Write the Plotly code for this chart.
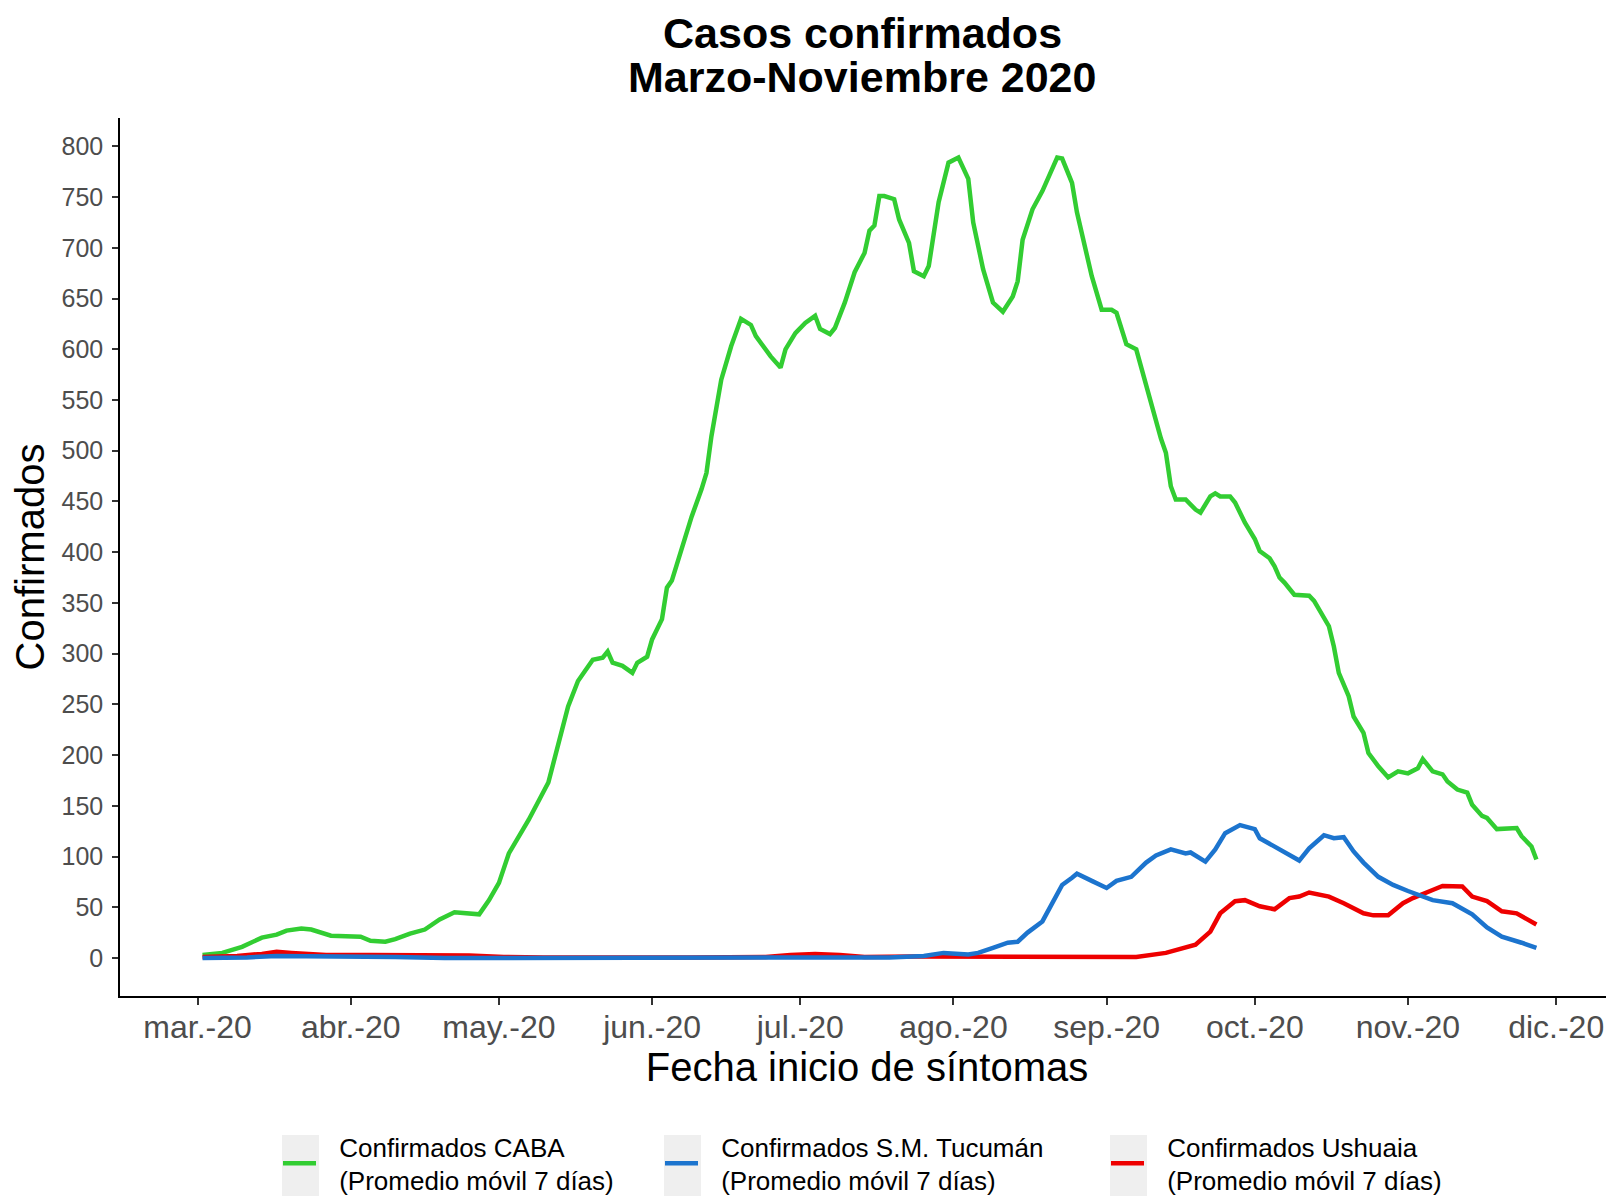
import plotly.graph_objects as go

# Promedio móvil 7 días
caba_fechas = [
    "2020-03-02", "2020-03-06", "2020-03-10", "2020-03-14", "2020-03-17", "2020-03-19",
    "2020-03-22", "2020-03-24", "2020-03-28", "2020-03-31", "2020-04-03", "2020-04-05",
    "2020-04-08", "2020-04-10", "2020-04-13", "2020-04-16", "2020-04-19", "2020-04-22",
    "2020-04-25", "2020-04-27", "2020-04-29", "2020-05-01", "2020-05-03", "2020-05-07",
    "2020-05-11", "2020-05-13", "2020-05-15", "2020-05-17", "2020-05-20", "2020-05-22",
    "2020-05-23", "2020-05-24", "2020-05-26", "2020-05-28", "2020-05-29", "2020-05-31",
    "2020-06-01", "2020-06-03", "2020-06-04", "2020-06-05", "2020-06-07", "2020-06-09",
    "2020-06-11", "2020-06-12", "2020-06-13", "2020-06-14", "2020-06-15", "2020-06-17",
    "2020-06-19", "2020-06-21", "2020-06-22", "2020-06-25", "2020-06-27", "2020-06-28",
    "2020-06-30", "2020-07-02", "2020-07-04", "2020-07-05", "2020-07-07", "2020-07-08",
    "2020-07-10", "2020-07-12", "2020-07-14", "2020-07-15", "2020-07-16", "2020-07-17",
    "2020-07-18", "2020-07-20", "2020-07-21", "2020-07-23", "2020-07-24", "2020-07-26",
    "2020-07-27", "2020-07-29", "2020-07-31", "2020-08-02", "2020-08-04", "2020-08-05",
    "2020-08-07", "2020-08-09", "2020-08-11", "2020-08-13", "2020-08-14", "2020-08-15",
    "2020-08-17", "2020-08-19", "2020-08-22", "2020-08-23", "2020-08-25", "2020-08-26",
    "2020-08-28", "2020-08-29", "2020-08-31", "2020-09-02", "2020-09-03", "2020-09-05",
    "2020-09-07", "2020-09-09", "2020-09-12", "2020-09-13", "2020-09-14", "2020-09-15",
    "2020-09-17", "2020-09-19", "2020-09-20", "2020-09-22", "2020-09-23", "2020-09-24",
    "2020-09-26", "2020-09-27", "2020-09-29", "2020-10-01", "2020-10-02", "2020-10-04",
    "2020-10-05", "2020-10-06", "2020-10-07", "2020-10-09", "2020-10-12", "2020-10-13",
    "2020-10-16", "2020-10-17", "2020-10-18", "2020-10-20", "2020-10-21", "2020-10-23",
    "2020-10-24", "2020-10-26", "2020-10-28", "2020-10-30", "2020-11-01", "2020-11-03",
    "2020-11-04", "2020-11-06", "2020-11-08", "2020-11-09", "2020-11-11", "2020-11-13",
    "2020-11-14", "2020-11-16", "2020-11-17", "2020-11-19", "2020-11-21", "2020-11-23",
    "2020-11-24", "2020-11-26", "2020-11-27",
]
caba_valores = [
    3, 5, 11, 20, 23, 27,
    29, 28, 22, 22, 21, 17,
    16, 18.5, 24, 28, 38, 45,
    44, 43, 57, 74, 103, 136,
    173, 212, 248, 273, 294, 296,
    302, 291, 288, 281, 291, 297,
    314, 334, 365, 372, 404, 435,
    462, 478, 514, 544, 570, 603,
    630, 624, 613, 593, 582, 600,
    616, 626, 633, 620, 615, 621,
    646, 676, 695, 717, 722, 751,
    751, 748, 728, 705, 677, 672,
    682, 745, 784, 789, 768, 725,
    679, 646, 637, 652, 667, 708,
    738, 756, 789, 788, 764, 735,
    692, 672, 639, 639, 636, 605,
    600, 564, 512, 498, 465, 452,
    452, 442, 439, 455, 458, 455,
    455, 449, 429, 413, 401, 394,
    386, 375, 370, 358, 357, 352,
    327, 307, 281, 258, 238, 222,
    202, 189, 178, 184, 182, 187,
    196, 184, 181, 174, 166, 163,
    151, 140, 138, 127, 128, 128,
    120, 110, 97,
]

tucuman_fechas = [
    "2020-03-02", "2020-03-11", "2020-03-17", "2020-03-23", "2020-03-31", "2020-04-10",
    "2020-04-20", "2020-04-30", "2020-06-29", "2020-07-04", "2020-07-09", "2020-07-19",
    "2020-07-26", "2020-07-30", "2020-08-04", "2020-08-06", "2020-08-09", "2020-08-12",
    "2020-08-14", "2020-08-16", "2020-08-19", "2020-08-21", "2020-08-23", "2020-08-25",
    "2020-08-26", "2020-08-29", "2020-09-01", "2020-09-03", "2020-09-06", "2020-09-09",
    "2020-09-11", "2020-09-14", "2020-09-17", "2020-09-18", "2020-09-21", "2020-09-23",
    "2020-09-25", "2020-09-28", "2020-10-01", "2020-10-02", "2020-10-05", "2020-10-08",
    "2020-10-10", "2020-10-12", "2020-10-15", "2020-10-17", "2020-10-19", "2020-10-21",
    "2020-10-23", "2020-10-26", "2020-10-29", "2020-11-01", "2020-11-04", "2020-11-06",
    "2020-11-10", "2020-11-14", "2020-11-17", "2020-11-20", "2020-11-24", "2020-11-27",
]
tucuman_valores = [
    0, 0.5, 2, 2, 1, 1,
    0, 0, 0, 1, 1, 0.5,
    2, 5, 3.5, 5, 10, 15,
    16, 25, 36, 54, 72, 79,
    83, 76, 69, 76, 80, 94,
    101, 107, 103, 104, 95, 107,
    123, 131, 127, 118, 110, 102,
    96, 108, 121, 118, 119, 105,
    94, 80, 72, 66, 61, 57,
    54, 43, 30, 21, 15, 10,
]

ushuaia_fechas = [
    "2020-03-02", "2020-03-09", "2020-03-14", "2020-03-17", "2020-03-20", "2020-03-27",
    "2020-04-05", "2020-04-15", "2020-04-20", "2020-04-25", "2020-05-02", "2020-05-10",
    "2020-06-09", "2020-06-24", "2020-06-29", "2020-07-04", "2020-07-09", "2020-07-14",
    "2020-07-24", "2020-08-08", "2020-08-28", "2020-09-07", "2020-09-13", "2020-09-17",
    "2020-09-19", "2020-09-22", "2020-09-24", "2020-09-27", "2020-09-29", "2020-10-02",
    "2020-10-05", "2020-10-08", "2020-10-10", "2020-10-12", "2020-10-16", "2020-10-19",
    "2020-10-23", "2020-10-25", "2020-10-28", "2020-10-31", "2020-11-02", "2020-11-06",
    "2020-11-08", "2020-11-12", "2020-11-14", "2020-11-17", "2020-11-20", "2020-11-23",
    "2020-11-27",
]
ushuaia_valores = [
    1, 2, 4, 6, 5, 3,
    3, 3, 2, 2.5, 1, 0.5,
    0.5, 1, 3, 4, 3, 1,
    1.5, 1, 0.5, 1, 5, 10,
    13, 26, 44, 56, 57, 51,
    48, 59, 60.5, 64.5, 60.5, 54,
    44, 42, 42, 54, 59, 67,
    71, 70.5, 60.5, 56, 46, 44,
    33,
]

mes_ticks = [
    "2020-03-01", "2020-04-01", "2020-05-01", "2020-06-01", "2020-07-01",
    "2020-08-01", "2020-09-01", "2020-10-01", "2020-11-01", "2020-12-01",
]
mes_etiquetas = [
    "mar.-20", "abr.-20", "may.-20", "jun.-20", "jul.-20",
    "ago.-20", "sep.-20", "oct.-20", "nov.-20", "dic.-20",
]

FONT = "Liberation Sans, Arial, sans-serif"
VERDE = "#32CD32"
AZUL = "#1C74CE"
ROJO = "#EE0000"

# la página deja 8 px de margen: el área del gráfico queda en x 120-1614, y 118-996 de la ventana
PAGE_OFF = 8
# sangría para separar el texto de la leyenda del símbolo, como en ggplot
SANGRIA = "\u2002\u2009"


def etiqueta(nombre):
    return SANGRIA + nombre + "<br>" + SANGRIA + "(Promedio móvil 7 días)"


fig = go.Figure()

series = [
    (caba_fechas, caba_valores, "Confirmados CABA", VERDE, "legend"),
    (ushuaia_fechas, ushuaia_valores, "Confirmados Ushuaia", ROJO, "legend3"),
    (tucuman_fechas, tucuman_valores, "Confirmados S.M. Tucumán", AZUL, "legend2"),
]
for fechas, valores, nombre, color, leyenda in series:
    fig.add_trace(go.Scatter(
        x=fechas, y=valores, name=etiqueta(nombre), mode="lines",
        line=dict(color=color, width=4.5),
        legend=leyenda,
    ))

# leyendas separadas para ubicar cada entrada como en el original
legend_base = dict(
    orientation="h", xref="container", yref="container",
    xanchor="left", yanchor="top", y=1 - (1123 - PAGE_OFF) / 1196,
    itemwidth=33,
    font=dict(family=FONT, size=26, color="black"),
    bgcolor="rgba(0,0,0,0)", itemclick=False, itemdoubleclick=False,
)

# caja gris detrás de cada símbolo de la leyenda
key_boxes = []
for x0 in [282, 664, 1110]:
    key_boxes.append(dict(
        type="rect", xref="paper", yref="paper",
        x0=(x0 - 120) / 1494, x1=(x0 + 37 - 120) / 1494,
        y0=(996 - 1200) / 878, y1=(996 - 1135) / 878,
        fillcolor="#EFEFEF", line=dict(width=0), layer="below",
    ))

fig.update_layout(
    width=1614, height=1196,
    margin=dict(l=120 - PAGE_OFF, r=PAGE_OFF, t=118 - PAGE_OFF, b=1196 - 996 + PAGE_OFF),
    paper_bgcolor="white", plot_bgcolor="white",
    font=dict(family=FONT, color="black"),
    showlegend=True,
    legend=dict(legend_base, x=(278 - PAGE_OFF) / 1614),
    legend2=dict(legend_base, x=(660 - PAGE_OFF) / 1614),
    legend3=dict(legend_base, x=(1106 - PAGE_OFF) / 1614),
    shapes=key_boxes,
    annotations=[
        dict(text="<b>Casos confirmados</b>", xref="paper", yref="paper",
             x=(862 - 120) / 1494, y=(996 - 33) / 878, showarrow=False,
             xanchor="center", yanchor="middle",
             font=dict(family=FONT, size=43, color="black")),
        dict(text="<b>Marzo-Noviembre 2020</b>", xref="paper", yref="paper",
             x=(862 - 120) / 1494, y=(996 - 77) / 878, showarrow=False,
             xanchor="center", yanchor="middle",
             font=dict(family=FONT, size=43, color="black")),
    ],
)

fig.update_xaxes(
    range=["2020-02-14 07:00", "2020-12-12 17:00"],
    tickmode="array", tickvals=mes_ticks, ticktext=mes_etiquetas,
    showgrid=False, zeroline=False,
    showline=True, linecolor="black", linewidth=1.5,
    ticks="outside", ticklen=7, tickwidth=1.5, tickcolor="#333333",
    ticklabelstandoff=-5,
    tickfont=dict(family=FONT, size=32, color="#4D4D4D"),
    title=dict(text="Fecha inicio de síntomas", standoff=7,
               font=dict(family=FONT, size=40, color="black")),
    automargin=False,
)
fig.update_yaxes(
    range=[-37.5, 828],
    tickmode="linear", tick0=0, dtick=50,
    showgrid=False, zeroline=False,
    showline=True, linecolor="black", linewidth=1.5,
    ticks="outside", ticklen=6, tickwidth=1.5, tickcolor="#333333",
    ticklabelstandoff=4,
    tickfont=dict(family=FONT, size=25, color="#4D4D4D"),
    title=dict(text="Confirmados", standoff=8,
               font=dict(family=FONT, size=40, color="black")),
    automargin=False,
)

fig.write_html("out.html")
